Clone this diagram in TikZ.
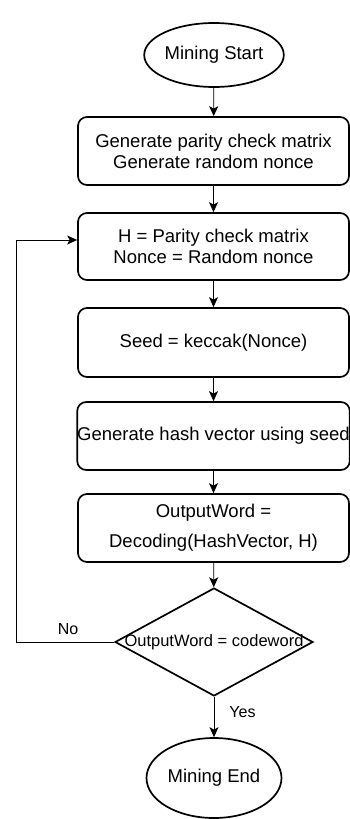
\documentclass[tikz,border=0pt]{standalone}
\usepackage{fontspec}
\setmainfont{Liberation Sans}
\usetikzlibrary{shapes.geometric,arrows.meta}

\begin{document}
\begin{tikzpicture}[x=1pt,y=-1pt,
        term/.style={ellipse,draw,line width=1.7pt,minimum width=134pt,minimum height=64pt,inner sep=0pt,font=\fontsize{18.5}{21}\selectfont},
        proc/.style={rectangle,rounded corners=9pt,draw,line width=1.7pt,minimum width=271pt,minimum height=68pt,inner sep=0pt,align=center,font=\fontsize{18.5}{21}\selectfont},
        decision/.style={diamond,draw,line width=1.7pt,minimum width=198pt,minimum height=108pt,inner sep=0pt},
        lbl/.style={font=\fontsize{16}{18}\selectfont,inner sep=1pt},
        flow/.style={-{Stealth[length=10pt,width=9pt,inset=2.5pt]},line width=0.8pt}]
        \useasboundingbox (0,0) rectangle (350,819);
        \node [term] (start) at (214,55) {Mining Start};
        \node [proc] (gen) at (213.5,151) {Generate parity check matrix\\Generate random nonce};
        \node [proc,minimum height=67pt] (assign) at (213.5,246.5) {H = Parity check matrix\\Nonce = Random nonce};
        \node [proc,minimum height=69pt] (seed) at (213.5,342.5) {Seed = keccak(Nonce)};
        \node [proc] (hashv) at (213.5,436) {Generate hash vector using seed};
        \node [proc] (decode) at (213.5,528) {OutputWord =\\[9pt]Decoding(HashVector, H)};
        \node [decision,label={[font=\fontsize{16.5}{20}\selectfont]center:{OutputWord = codeword}}] (check) at (214,642) {};
        \node [term,minimum width=135pt,minimum height=80pt] (end) at (214,778) {Mining End};
        \draw [flow] (start) - - (gen) ;
        \draw [flow] (gen) - - (assign) ;
        \draw [flow] (assign) - - (seed) ;
        \draw [flow] (seed) - - (hashv) ;
        \draw [flow] (hashv) - - (decode) ;
        \draw [flow] (decode) - - (check) ;
        \draw [flow] (check) - - node [lbl,anchor=west,pos=0.38,xshift=14pt] {Yes} (end) ;
        \draw [flow] (check.west) - - node [lbl,anchor=south,pos=0.47,yshift=6pt] {No} (16,642) |- ([yshift=6.5pt]assign.west) ;
\end{tikzpicture}
\end{document}
